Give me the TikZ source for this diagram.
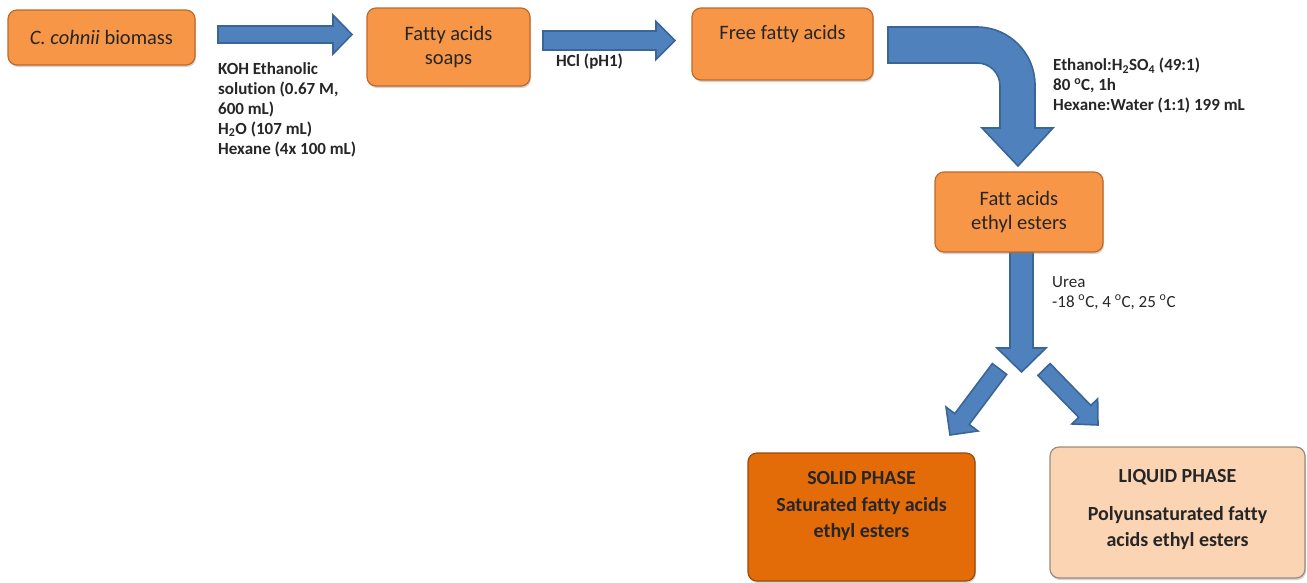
\documentclass[tikz,border=0pt]{standalone}
\usepackage{fontspec}
\setmainfont[Ligatures={NoCommon}]{Carlito}
\usetikzlibrary{calc,shadows}
\definecolor{boxorange}{HTML}{F79646}
\definecolor{boxedge}{HTML}{C0692A}
\definecolor{solidfill}{HTML}{E36C09}
\definecolor{solidedge}{HTML}{9A4A08}
\definecolor{liqfill}{HTML}{FBD4B4}
\definecolor{liqedge}{HTML}{9C8B7C}
\definecolor{arrowfill}{HTML}{4F81BD}
\definecolor{arrowedge}{HTML}{3A6597}
\definecolor{txt}{HTML}{262626}
% #1 start, #2 tip, #3 shaft half width, #4 head half width, #5 head length
\newcommand\blockarrow[5]{%
  \coordinate (ba-h) at ($(#2)!#5!(#1)$);
  \draw[barrow] ($(#1)!#3!90:(#2)$) -- ($(ba-h)!#3!-90:(#1)$) -- ($(ba-h)!#4!-90:(#1)$)
    -- (#2) -- ($(ba-h)!#4!90:(#1)$) -- ($(ba-h)!#3!90:(#1)$) -- ($(#1)!#3!-90:(#2)$) -- cycle;}
\begin{document}
\begin{tikzpicture}[x=1pt,y=-1pt,
  barrow/.style={fill=arrowfill,draw=arrowedge,line width=1.6pt,line join=miter},
  stepbox/.style={rounded corners=9pt,fill=boxorange,draw=boxedge,line width=1.2pt,
    inner sep=0pt,align=center,text=txt,font=\fontsize{20.5}{24}\selectfont,
    drop shadow={shadow xshift=1pt,shadow yshift=-2pt,opacity=0.35}},
  labeltext/.style={anchor=north west,inner sep=0pt,align=left,text=txt,
    font=\fontsize{17}{20}\selectfont\bfseries},
  phasetext/.style={inner sep=0pt,align=center,text=txt,
    font=\fontsize{20}{26}\selectfont\bfseries}]
\useasboundingbox (0,0) rectangle (1307,582);

% block arrows
\coordinate (a1s) at (218,34.5); \coordinate (a1t) at (352,34.5);
\blockarrow{a1s}{a1t}{8.5pt}{19.5pt}{19pt}
\coordinate (a2s) at (543,40.5); \coordinate (a2t) at (675,40.5);
\blockarrow{a2s}{a2t}{9.5pt}{19pt}{19pt}
\coordinate (a4s) at (1021.5,252); \coordinate (a4t) at (1021.5,372);
\blockarrow{a4s}{a4t}{11.5pt}{24.5pt}{24pt}
\coordinate (a5s) at (999.5,369); \coordinate (a5t) at (950,435);
\blockarrow{a5s}{a5t}{9pt}{20pt}{20pt}
\coordinate (a6s) at (1044,369.5); \coordinate (a6t) at (1098,425);
\blockarrow{a6s}{a6t}{8.5pt}{18pt}{19pt}
% bent arrow
\draw[barrow] (888,27) -- (977,27) .. controls (1009,27) and (1035,53) .. (1035,85)
  -- (1035,128) -- (1053,128) -- (1018,166) -- (982,128) -- (1000,128) -- (1000,86)
  .. controls (1000,73) and (990,63) .. (977,63) -- (888,63) -- cycle;

% boxes
\node[stepbox,minimum width=187pt,minimum height=55pt] (b1) at (101.5,37.5) {\textit{C. cohnii} biomass};
\node[stepbox,minimum width=163pt,minimum height=78pt] (b2) at (448.5,47) {Fatty acids\\soaps};
\node[stepbox,minimum width=181pt,minimum height=72pt] (b3) at (782.5,44) {};
\node[inner sep=0pt,text=txt,font=\fontsize{20.5}{24}\selectfont] (b3t) at (782.5,34) {Free fatty acids};
\node[stepbox,minimum width=168pt,minimum height=80pt] (b4) at (1019,212) {Fatt acids\\ethyl esters};
\node[stepbox,fill=solidfill,draw=solidedge,minimum width=227pt,minimum height=128pt] (b5) at (861.5,517) {};
\node[phasetext] (b5t) at (861.5,506) {SOLID PHASE\\[1pt]Saturated fatty acids\\ethyl esters};
\node[stepbox,fill=liqfill,draw=liqedge,minimum width=255pt,minimum height=131pt] (b6) at (1177.5,512.5) {};
\node[phasetext] (b6t) at (1177.5,510) {LIQUID PHASE\\[12pt]Polyunsaturated fatty\\acids ethyl esters};

% labels
\node[labeltext] (l1) at (218,62) {KOH Ethanolic\\solution (0.67 M,\\600 mL)\\H\textsubscript{2}O (107 mL)\\Hexane (4x 100 mL)};
\node[labeltext] (l2) at (556,54) {HCl (pH1)};
\node[labeltext] (l3) at (1053,58) {Ethanol:H\textsubscript{2}SO\textsubscript{4} (49:1)\\80 \textsuperscript{o}C, 1h\\Hexane:Water (1:1) 199 mL};
\node[labeltext,font=\fontsize{17}{20}\selectfont] (l4) at (1052,276) {Urea\\-18 \textsuperscript{o}C, 4 \textsuperscript{o}C, 25 \textsuperscript{o}C};
\end{tikzpicture}
\end{document}
